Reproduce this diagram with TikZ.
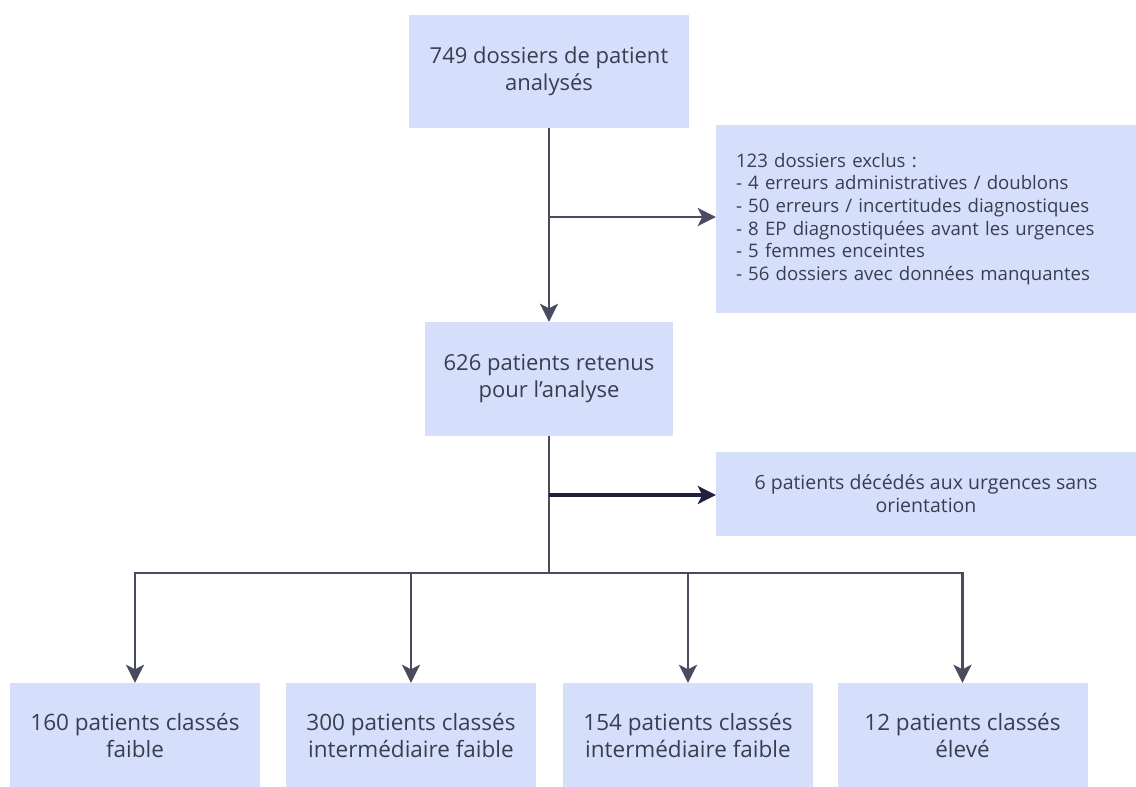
\documentclass[tikz,border=0pt]{standalone}
\usepackage{fontspec}
\setmainfont{Open Sans}
\usetikzlibrary{arrows.meta,calc}
\definecolor{boxfill}{RGB}{213,223,252}
\definecolor{linec}{RGB}{72,76,94}
\definecolor{darkc}{RGB}{30,33,62}
\definecolor{txtc}{RGB}{58,61,78}
\tikzset{
  box/.style={fill=boxfill, draw=none, text=txtc, align=center, inner sep=0pt, font=\fontsize{22}{27}\selectfont},
  conn/.style={draw=linec, line width=2.9pt},
  arr/.style={conn, -{Stealth[length=18pt,width=18pt,inset=4.5pt]}},
  arrdark/.style={draw=darkc, line width=3.2pt, -{Stealth[length=18pt,width=18pt,inset=4.5pt]}},
}
\begin{document}
\begin{tikzpicture}[x=1pt,y=-1pt]
\useasboundingbox (0,0) rectangle (1136,787);
\fill[white] (0,0) rectangle (1136,787);
\node[box, minimum width=280pt, minimum height=113pt] (top) at (549,71.5) {749 dossiers de patient\\analysés};
\node[box, minimum width=420pt, minimum height=188pt, align=left, text width=380pt, font=\fontsize{18.6}{22.6}\selectfont] (excl) at (926,219) {123 dossiers exclus :\\- 4 erreurs administratives / doublons\\- 50 erreurs / incertitudes diagnostiques\\- 8 EP diagnostiquées avant les urgences\\- 5 femmes enceintes\\- 56 dossiers avec données manquantes};
\node[box, minimum width=248pt, minimum height=114pt] (mid) at (549,379) {626 patients retenus\\pour l'analyse};
\node[box, minimum width=420pt, minimum height=84pt, font=\fontsize{19.5}{23}\selectfont] (dec) at (926,494) {6 patients décédés aux urgences sans\\orientation};
\node[box, minimum width=250pt, minimum height=104pt, font=\fontsize{22.5}{27}\selectfont] (c1) at (135,735) {160 patients classés\\faible};
\node[box, minimum width=250pt, minimum height=104pt, font=\fontsize{22.5}{27}\selectfont] (c2) at (411,735) {300 patients classés\\intermédiaire faible};
\node[box, minimum width=250pt, minimum height=104pt, font=\fontsize{22.5}{27}\selectfont] (c3) at (688,735) {154 patients classés\\intermédiaire faible};
\node[box, minimum width=250pt, minimum height=104pt, font=\fontsize{22.5}{27}\selectfont] (c4) at (962.5,735) {12 patients classés\\élevé};
\coordinate (b1) at (549,217);
\coordinate (b2) at (549,495);
\coordinate (j) at (549,573);
\draw[arr] (top.south) -- (mid.north);
\draw[arr] (b1) -- (excl.west |- b1);
\draw[conn] (mid.south) -- (j);
\draw[arrdark] (b2) -- (dec.west |- b2);
\draw[arr] (j) -| (c1.north);
\draw[arr] (j) -| (c2.north);
\draw[arr] (j) -| (c3.north);
\draw[arr] (j) -| (c4.north);
\end{tikzpicture}
\end{document}
